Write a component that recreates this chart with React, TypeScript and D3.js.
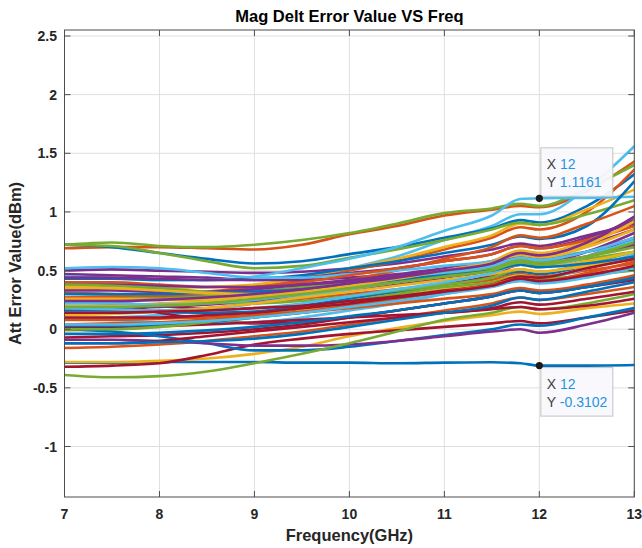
import React from "react";
import * as d3 from "d3";

const freqs = [7, 7.5, 8, 8.5, 9, 9.5, 10, 10.5, 11, 11.5, 11.8, 12, 12.5, 13];
const xTicks = [7, 8, 9, 10, 11, 12, 13];
const yTicks = [-1, -0.5, 0, 0.5, 1, 1.5, 2, 2.5];
const lineColors = ["#0072BD", "#D95319", "#EDB120", "#7E2F8E", "#77AC30", "#4DBEEE", "#A2142F"];

const series: number[][] = [
  [-0.285, -0.285, -0.28, -0.28, -0.28, -0.285, -0.285, -0.29, -0.285, -0.282, -0.29, -0.3102, -0.31, -0.305],
  [0.69, 0.70, 0.70, 0.69, 0.68, 0.72, 0.81, 0.88, 0.97, 1.02, 1.05, 1.04, 1.18, 1.43],
  [-0.28, -0.28, -0.27, -0.25, -0.21, -0.15, -0.06, 0.01, 0.07, 0.12, 0.15, 0.13, 0.18, 0.22],
  [0.50, 0.51, 0.50, 0.49, 0.48, 0.49, 0.52, 0.56, 0.62, 0.68, 0.73, 0.71, 0.80, 0.90],
  [0.72, 0.74, 0.71, 0.70, 0.72, 0.76, 0.82, 0.90, 0.99, 1.03, 1.07, 1.05, 1.20, 1.40],
  [0.30, 0.29, 0.27, 0.29, 0.34, 0.42, 0.52, 0.62, 0.76, 0.88, 0.98, 0.98, 1.20, 1.56],
  [-0.32, -0.31, -0.29, -0.22, -0.13, -0.08, -0.04, -0.01, 0.02, 0.05, 0.07, 0.05, 0.10, 0.16],
  [0.72, 0.70, 0.65, 0.60, 0.56, 0.58, 0.64, 0.70, 0.78, 0.86, 0.93, 0.91, 1.05, 1.32],
  [0.40, 0.40, 0.38, 0.36, 0.37, 0.42, 0.50, 0.58, 0.68, 0.78, 0.87, 0.85, 1.00, 1.36],
  [0.37, 0.36, 0.35, 0.36, 0.38, 0.44, 0.52, 0.60, 0.70, 0.80, 0.90, 0.89, 1.02, 1.19],
  [0.47, 0.46, 0.45, 0.44, 0.42, 0.42, 0.44, 0.47, 0.52, 0.58, 0.65, 0.63, 0.72, 0.85],
  [0.72, 0.71, 0.65, 0.58, 0.52, 0.54, 0.61, 0.68, 0.76, 0.85, 0.91, 0.89, 0.98, 1.10],
  [0.45, 0.44, 0.42, 0.42, 0.45, 0.52, 0.60, 0.70, 0.84, 0.97, 1.11, 1.1161, 1.12, 1.13],
  [0.23, 0.22, 0.20, 0.17, 0.14, 0.16, 0.22, 0.30, 0.38, 0.46, 0.55, 0.53, 0.62, 0.78],
  [0.43, 0.43, 0.42, 0.42, 0.43, 0.46, 0.52, 0.58, 0.65, 0.72, 0.79, 0.77, 0.88, 1.26],
  [0.31, 0.30, 0.28, 0.28, 0.30, 0.35, 0.42, 0.50, 0.60, 0.70, 0.80, 0.78, 0.90, 1.05],
  [0.34, 0.34, 0.32, 0.30, 0.29, 0.31, 0.36, 0.42, 0.50, 0.58, 0.67, 0.65, 0.76, 0.95],
  [0.18, 0.18, 0.19, 0.21, 0.24, 0.28, 0.33, 0.38, 0.44, 0.50, 0.57, 0.56, 0.66, 0.82],
  [0.24, 0.25, 0.26, 0.28, 0.32, 0.36, 0.40, 0.44, 0.48, 0.52, 0.57, 0.55, 0.60, 0.66],
  [0.09, 0.10, 0.12, 0.16, 0.22, 0.28, 0.34, 0.40, 0.46, 0.52, 0.58, 0.56, 0.62, 0.72],
  [0.23, 0.22, 0.14, 0.08, 0.05, 0.06, 0.10, 0.16, 0.22, 0.28, 0.33, 0.31, 0.36, 0.44],
  [0.16, 0.16, 0.15, 0.14, 0.15, 0.20, 0.26, 0.32, 0.38, 0.44, 0.49, 0.47, 0.54, 0.60],
  [0.13, 0.14, 0.16, 0.18, 0.22, 0.26, 0.30, 0.34, 0.38, 0.42, 0.47, 0.45, 0.50, 0.56],
  [-0.01, 0.00, 0.02, 0.05, 0.10, 0.16, 0.22, 0.28, 0.34, 0.40, 0.46, 0.44, 0.52, 0.62],
  [0.44, 0.44, 0.43, 0.42, 0.42, 0.44, 0.48, 0.52, 0.58, 0.64, 0.71, 0.69, 0.78, 0.93],
  [0.27, 0.27, 0.26, 0.24, 0.22, 0.24, 0.28, 0.33, 0.38, 0.44, 0.51, 0.49, 0.56, 0.66],
  [0.52, 0.53, 0.52, 0.48, 0.44, 0.44, 0.47, 0.50, 0.54, 0.58, 0.63, 0.62, 0.66, 0.72],
  [-0.07, -0.06, -0.05, -0.03, 0.00, 0.04, 0.10, 0.16, 0.22, 0.28, 0.33, 0.31, 0.36, 0.42],
  [0.00, -0.02, -0.06, -0.12, -0.18, -0.18, -0.15, -0.10, -0.05, 0.00, 0.04, 0.03, 0.10, 0.18],
  [-0.16, -0.15, -0.13, -0.10, -0.06, -0.02, 0.04, 0.10, 0.16, 0.22, 0.27, 0.25, 0.30, 0.36],
  [0.20, 0.20, 0.22, 0.24, 0.28, 0.32, 0.38, 0.44, 0.50, 0.56, 0.63, 0.61, 0.70, 0.85],
  [-0.09, -0.09, -0.10, -0.12, -0.14, -0.14, -0.13, -0.10, -0.06, -0.02, 0.00, -0.03, 0.04, 0.14],
  [-0.39, -0.41, -0.40, -0.36, -0.29, -0.21, -0.12, -0.02, 0.08, 0.14, 0.19, 0.17, 0.22, 0.30],
  [0.09, 0.08, 0.06, 0.05, 0.06, 0.10, 0.16, 0.22, 0.30, 0.38, 0.45, 0.43, 0.52, 0.64],
  [0.02, 0.02, 0.03, 0.04, 0.06, 0.08, 0.10, 0.12, 0.14, 0.17, 0.19, 0.17, 0.20, 0.26],
  [0.03, 0.03, 0.04, 0.06, 0.10, 0.14, 0.20, 0.26, 0.32, 0.38, 0.43, 0.41, 0.46, 0.52],
  [0.27, 0.28, 0.30, 0.32, 0.36, 0.40, 0.46, 0.52, 0.58, 0.64, 0.71, 0.69, 0.76, 0.88],
  [0.12, 0.13, 0.15, 0.18, 0.22, 0.27, 0.32, 0.37, 0.42, 0.47, 0.51, 0.49, 0.54, 0.60],
  [0.33, 0.33, 0.32, 0.32, 0.34, 0.38, 0.42, 0.46, 0.50, 0.54, 0.59, 0.57, 0.62, 0.72],
  [0.00, 0.00, 0.02, 0.06, 0.12, 0.18, 0.24, 0.30, 0.36, 0.40, 0.45, 0.43, 0.46, 0.50],
  [0.18, 0.17, 0.16, 0.16, 0.18, 0.22, 0.28, 0.34, 0.40, 0.48, 0.55, 0.53, 0.62, 0.76],
  [-0.12, -0.12, -0.10, -0.06, -0.02, 0.02, 0.06, 0.10, 0.14, 0.18, 0.23, 0.21, 0.26, 0.32],
  [-0.12, -0.12, -0.11, -0.10, -0.08, -0.04, 0.02, 0.08, 0.14, 0.20, 0.27, 0.25, 0.32, 0.40],
  [0.04, 0.05, 0.06, 0.08, 0.11, 0.14, 0.18, 0.22, 0.26, 0.30, 0.35, 0.33, 0.38, 0.46],
  [0.26, 0.26, 0.25, 0.26, 0.28, 0.31, 0.35, 0.40, 0.45, 0.50, 0.55, 0.53, 0.58, 0.66],
  [0.38, 0.38, 0.37, 0.36, 0.36, 0.38, 0.41, 0.45, 0.50, 0.55, 0.61, 0.59, 0.66, 0.78],
  [0.38, 0.37, 0.35, 0.32, 0.30, 0.32, 0.35, 0.40, 0.46, 0.52, 0.59, 0.57, 0.62, 0.70],
  [0.22, 0.22, 0.21, 0.22, 0.25, 0.30, 0.36, 0.42, 0.48, 0.54, 0.61, 0.59, 0.66, 0.78],
  [0.14, 0.14, 0.15, 0.16, 0.18, 0.20, 0.24, 0.28, 0.33, 0.38, 0.45, 0.44, 0.52, 0.60],
  [0.30, 0.30, 0.30, 0.31, 0.32, 0.34, 0.38, 0.42, 0.46, 0.50, 0.55, 0.53, 0.56, 0.62],
  [0.08, 0.08, 0.09, 0.10, 0.12, 0.15, 0.20, 0.26, 0.32, 0.38, 0.43, 0.41, 0.48, 0.58],
  [0.36, 0.35, 0.33, 0.31, 0.30, 0.32, 0.37, 0.43, 0.50, 0.57, 0.65, 0.63, 0.72, 0.92],
  [0.24, 0.24, 0.25, 0.27, 0.30, 0.34, 0.39, 0.44, 0.50, 0.56, 0.65, 0.63, 0.74, 0.96],
  [0.19, 0.19, 0.20, 0.22, 0.26, 0.30, 0.35, 0.40, 0.45, 0.50, 0.57, 0.55, 0.62, 0.74],
  [0.04, 0.04, 0.05, 0.07, 0.10, 0.14, 0.19, 0.24, 0.30, 0.36, 0.41, 0.39, 0.44, 0.52],
  [0.10, 0.10, 0.10, 0.12, 0.14, 0.18, 0.22, 0.27, 0.32, 0.37, 0.43, 0.41, 0.46, 0.54],
  [-0.04, -0.04, -0.03, -0.01, 0.02, 0.06, 0.11, 0.16, 0.22, 0.28, 0.33, 0.31, 0.36, 0.44],
];

const tips = [
  { x: 12, y: 1.1161, label: "1.1161" },
  { x: 12, y: -0.3102, label: "-0.3102" },
];

const W = 642, H = 548;
const L = 64.5, R = 634.3, T = 30, B = 497;
const FONT = "'Liberation Sans', Arial, Helvetica, sans-serif";

export default function App() {
  const x = d3.scaleLinear().domain([7, 13]).range([L, R]);
  const y = d3.scaleLinear().domain([-1.4305, 2.5512]).range([B, T]);
  const line = d3
    .line<number>()
    .x((_, i) => x(freqs[i]))
    .y((d) => y(d))
    .curve(d3.curveMonotoneX);

  return (
    <svg width={W} height={H} style={{ position: "absolute", left: 0, top: 0, background: "#fff" }}>
      <defs>
        <clipPath id="clip">
          <rect x={L} y={T} width={R - L} height={B - T} />
        </clipPath>
      </defs>
      <rect x={0} y={0} width={W} height={H} fill="#fff" />
      {xTicks.map((t) => (
        <line key={"gx" + t} x1={x(t)} x2={x(t)} y1={T} y2={B} stroke="#dfdfdf" strokeWidth={1} />
      ))}
      {yTicks.map((t) => (
        <line key={"gy" + t} x1={L} x2={R} y1={y(t)} y2={y(t)} stroke="#dfdfdf" strokeWidth={1} />
      ))}
      <g clipPath="url(#clip)">
        {series.map((s, i) => (
          <path
            key={i}
            d={line(s) || ""}
            fill="none"
            stroke={lineColors[i % lineColors.length]}
            strokeWidth={2.6}
            strokeLinejoin="round"
            strokeLinecap="round"
          />
        ))}
      </g>
      <rect x={L} y={T} width={R - L} height={B - T} fill="none" stroke="#4d4d4d" strokeWidth={1} />
      {xTicks.map((t) => (
        <g key={"tx" + t}>
          <line x1={x(t)} x2={x(t)} y1={B} y2={B - 6} stroke="#4d4d4d" />
          <line x1={x(t)} x2={x(t)} y1={T} y2={T + 6} stroke="#4d4d4d" />
          <text x={x(t)} y={519} textAnchor="middle" fontFamily={FONT} fontWeight="bold" fontSize={14} fill="#262626">
            {t}
          </text>
        </g>
      ))}
      {yTicks.map((t) => (
        <g key={"ty" + t}>
          <line x1={L} x2={L + 6} y1={y(t)} y2={y(t)} stroke="#4d4d4d" />
          <line x1={R} x2={R - 6} y1={y(t)} y2={y(t)} stroke="#4d4d4d" />
          <text x={57} y={y(t) + 5} textAnchor="end" fontFamily={FONT} fontWeight="bold" fontSize={14} fill="#262626">
            {t}
          </text>
        </g>
      ))}
      <text x={(L + R) / 2} y={22} textAnchor="middle" fontFamily={FONT} fontWeight="bold" fontSize={16.5} fill="#000">
        Mag Delt Error Value VS Freq
      </text>
      <text x={(L + R) / 2} y={541} textAnchor="middle" fontFamily={FONT} fontWeight="bold" fontSize={16.5} fill="#262626">
        Frequency(GHz)
      </text>
      <text
        transform={`translate(21,${(T + B) / 2}) rotate(-90)`}
        textAnchor="middle"
        fontFamily={FONT}
        fontWeight="bold"
        fontSize={16.5}
        fill="#262626"
      >
        Att Error Value(dBm)
      </text>
      {tips.map((tp, i) => {
        const px = x(tp.x);
        const py = y(tp.y);
        const above = i === 0;
        const bx = px + 1.5;
        const bw = 72;
        const bh = 48.5;
        const by = above ? py - 2 - bh : py + 2;
        return (
          <g key={"tip" + i}>
            <rect x={bx} y={by} width={bw} height={bh} fill="#f8f8fd" fillOpacity={0.95} stroke="#c4c4c4" strokeWidth={1} />
            <text x={bx + 6} y={by + 21} fontFamily={FONT} fontSize={14} fill="#404040">
              X <tspan fill="#1f96e0">{tp.x}</tspan>
            </text>
            <text x={bx + 6} y={by + 39} fontFamily={FONT} fontSize={14} fill="#404040">
              Y <tspan fill="#1f96e0">{tp.label}</tspan>
            </text>
            <circle cx={px} cy={py} r={3.6} fill="#1a1a1a" />
          </g>
        );
      })}
    </svg>
  );
}
